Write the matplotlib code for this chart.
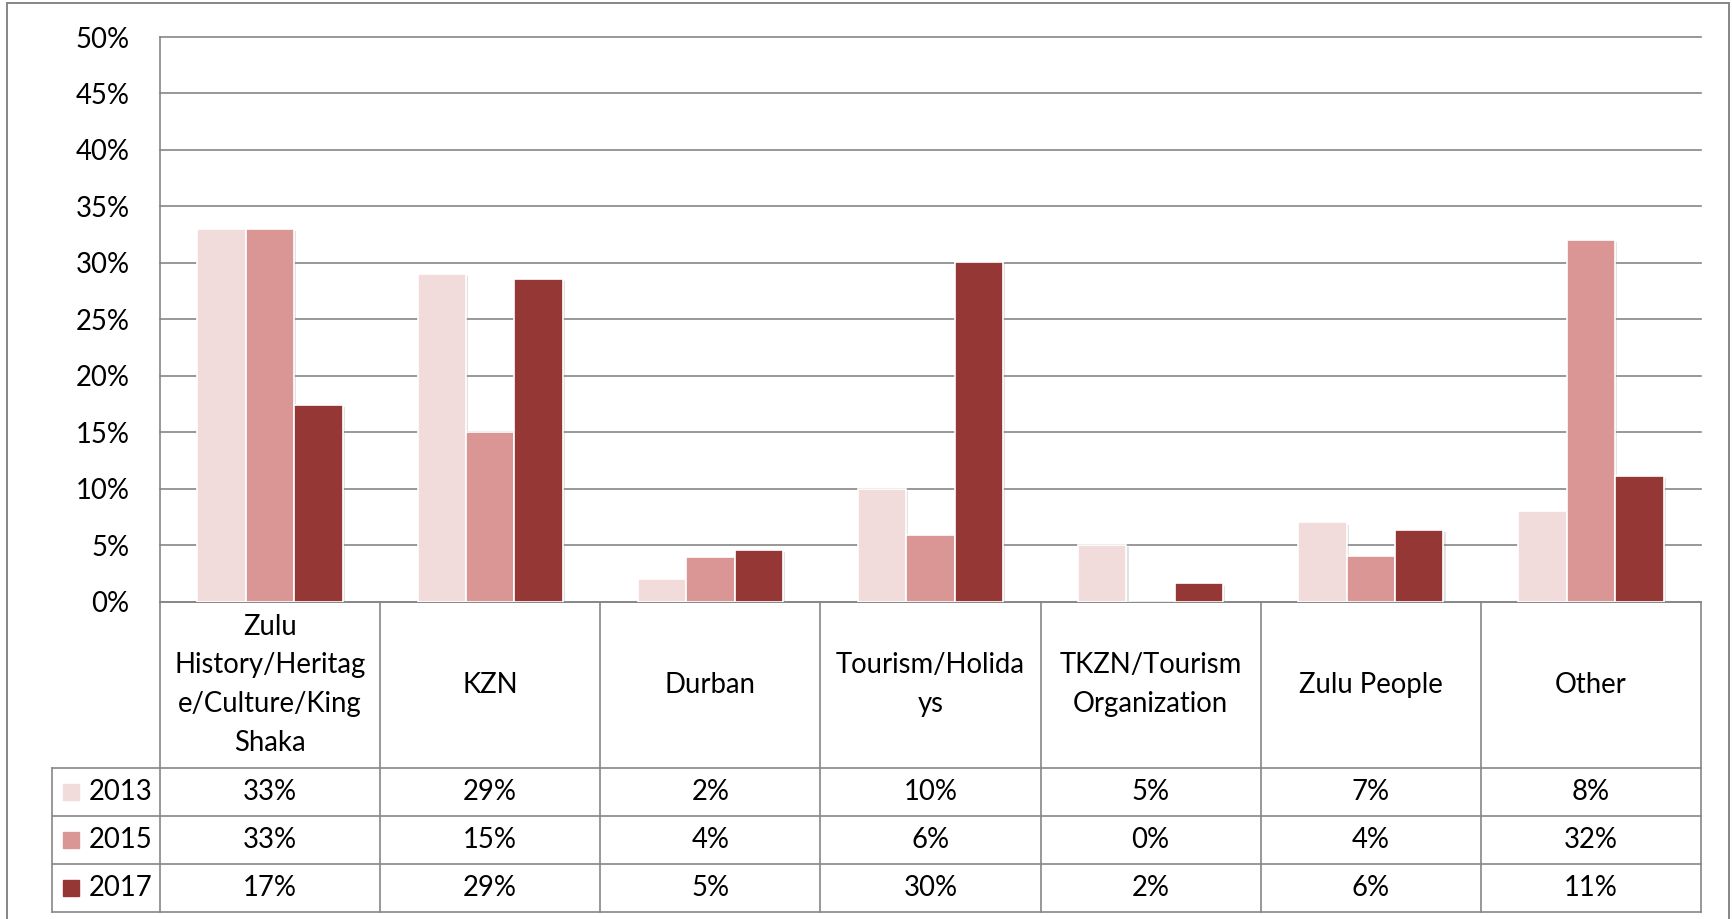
import matplotlib
matplotlib.use("Agg")
import matplotlib.pyplot as plt
import matplotlib.patheffects as pe
import numpy as np

plt.rcParams['font.family'] = ['Lato', 'DejaVu Sans']

# ---- data ----
categories = ["Zulu\nHistory/Heritag\ne/Culture/King\nShaka", "KZN", "Durban",
              "Tourism/Holida\nys", "TKZN/Tourism\nOrganization", "Zulu People", "Other"]
series_names = ["2013", "2015", "2017"]
values_2013 = [33.0, 29.0, 2.0, 10.0, 5.0, 7.0, 8.0]
values_2015 = [33.0, 15.0, 3.9, 5.9, 0.0, 4.0, 32.0]
values_2017 = [17.4, 28.6, 4.6, 30.1, 1.6, 6.3, 11.1]
colors = ["#F2DCDB", "#D99694", "#953735"]
y_ticks = [0, 5, 10, 15, 20, 25, 30, 35, 40, 45, 50]

series = [values_2013, values_2015, values_2017]

W, H = 1732, 919
fig = plt.figure(figsize=(W / 100, H / 100), dpi=100)

GRID = "#868686"
FS = 19.8

# background overlay (pixel coords) for outer border
bg = fig.add_axes([0, 0, 1, 1], zorder=0)
bg.set_xlim(0, W)
bg.set_ylim(H, 0)
bg.axis("off")
bg.plot([7, 7], [3, H + 5], color=GRID, lw=1.4, clip_on=False)
bg.plot([7, 1729], [3, 3], color=GRID, lw=1.4, clip_on=False)
bg.plot([1729, 1729], [3, H + 5], color=GRID, lw=1.4, clip_on=False)

# plot area in pixels
pl, pr, pt, pb = 160, 1701, 37, 601.5
tb = 912  # table bottom

ax = fig.add_axes([pl / W, (H - pb) / H, (pr - pl) / W, (pb - pt) / H], zorder=2)
ax.patch.set_alpha(0)
n = len(categories)
x = np.arange(n)
bw = 0.22
for j, vals in enumerate(series):
    bars = ax.bar(x + (j - 1) * bw, vals, width=bw, color=colors[j],
                  edgecolor="white", linewidth=1.2, zorder=3)
    for b in bars:
        b.set_path_effects([pe.SimplePatchShadow(offset=(1.5, -1.5), shadow_rgbFace="0.55", alpha=0.25),
                            pe.Normal()])

ax.set_xlim(-0.5, n - 0.5)
ax.set_ylim(0, 50)
ax.set_yticks(y_ticks)
ax.set_yticklabels([f"{t}%" for t in y_ticks], fontsize=FS)
ax.tick_params(axis="y", length=0, pad=22)
ax.set_xticks([])
ax.yaxis.grid(True, color=GRID, lw=1.2)
for gl in ax.get_ygridlines():
    gl.set_clip_on(False)
ax.set_axisbelow(True)
for s in ["top", "right"]:
    ax.spines[s].set_visible(False)
for s in ["left", "bottom"]:
    ax.spines[s].set_color(GRID)
    ax.spines[s].set_linewidth(1.2)

# table axes: x in category units, y in pixels
tax = fig.add_axes([pl / W, (H - tb) / H, (pr - pl) / W, (tb - pb) / H], zorder=3)
tax.set_xlim(-0.5, n - 0.5)
tax.set_ylim(tb, pb)
tax.axis("off")
tax.patch.set_alpha(0)

pxu = (pr - pl) / n
leg_left = -0.5 - (pl - 51.7) / pxu
row_lines = [768, 816, 864, 912]
lw_t = 1.2
for i in range(n + 1):
    tax.plot([i - 0.5, i - 0.5], [pb, tb], color=GRID, lw=lw_t, clip_on=False)
tax.plot([leg_left, leg_left], [row_lines[0], tb], color=GRID, lw=lw_t, clip_on=False)
for yl in row_lines:
    tax.plot([leg_left, n - 0.5], [yl, yl], color=GRID, lw=lw_t, clip_on=False)

head_c = (pb + row_lines[0]) / 2
for i, c in enumerate(categories):
    tax.text(i, head_c, c, ha="center", va="center", fontsize=FS, linespacing=1.6)

mark_x = -0.5 - (pl - 71.5) / pxu
text_x = -0.5 - (pl - 89) / pxu
for j, vals in enumerate(series):
    yc = (row_lines[j] + row_lines[j + 1]) / 2
    tax.plot([mark_x], [yc], marker="s", markersize=11, color=colors[j],
             linestyle="none", clip_on=False)
    tax.text(text_x, yc, series_names[j], ha="left", va="center", fontsize=FS)
    for i, v in enumerate(vals):
        tax.text(i, yc, f"{v:.0f}%", ha="center", va="center", fontsize=FS)

fig.savefig("out.png", dpi=100)
